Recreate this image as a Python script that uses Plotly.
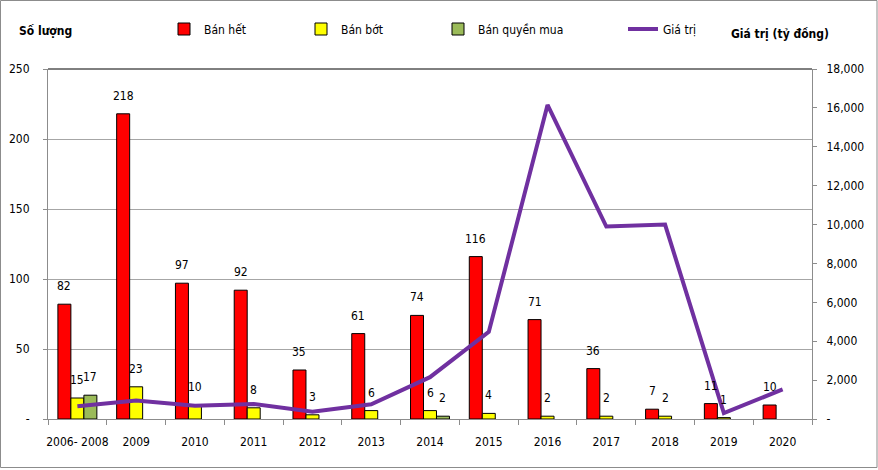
import plotly.graph_objects as go

categories = ["2006- 2008", "2009", "2010", "2011", "2012", "2013", "2014",
              "2015", "2016", "2017", "2018", "2019", "2020"]
ban_het = [82, 218, 97, 92, 35, 61, 74, 116, 71, 36, 7, 11, 10]
ban_bot = [15, 23, 10, 8, 3, 6, 6, 4, 2, 2, 2, 1, None]
ban_quyen_mua = [17, None, None, None, None, None, 2, None, None, None, None, None, None]
gia_tri = [650, 950, 680, 770, 380, 760, 2150, 4480, 16150, 9900, 10000, 300, 1520]

left_ticks = [0, 50, 100, 150, 200, 250]
left_ticktext = ["-", "50", "100", "150", "200", "250"]
right_ticks = [0, 2000, 4000, 6000, 8000, 10000, 12000, 14000, 16000, 18000]
right_ticktext = ["-", "2,000", "4,000", "6,000", "8,000", "10,000", "12,000",
                  "14,000", "16,000", "18,000"]

FONT = "DejaVu Sans Condensed, Liberation Sans Narrow, Arial Narrow, sans-serif"
W, H = 878, 470
ML, MR, MT, MB = 48, 66, 69, 51
PW = W - ML - MR
PH = H - MT - MB
BARGAP = 0.337
cat_w = PW / len(categories)
bar_w = cat_w * (1 - BARGAP) / 3

fig = go.Figure()
series = [
    ("Bán hết", ban_het, "#FF0000"),
    ("Bán bớt", ban_bot, "#FFFF00"),
    ("Bán quyền mua", ban_quyen_mua, "#9BBB59"),
]
for name, vals, col in series:
    fig.add_trace(go.Bar(
        name=name, x=categories, y=vals,
        marker=dict(color=col, line=dict(color="#000000", width=1)),
        legend="legend",
    ))

fig.add_trace(go.Scatter(
    name="Giá trị", x=categories, y=gia_tri, yaxis="y2",
    mode="lines", line=dict(color="#7030A0", width=4),
    legend="legend2",
))

annotations = []
for si, (name, vals, col) in enumerate(series):
    shift = (si - 1) * bar_w
    for ci, v in enumerate(vals):
        if v is None:
            continue
        annotations.append(dict(
            x=ci, y=v, xref="x", yref="y", text=str(v), showarrow=False,
            xshift=shift, yshift=9, yanchor="bottom",
            font=dict(family=FONT, size=12, color="#000000"),
        ))

annotations.append(dict(
    x=(45 - ML) / PW, y=1 + (MT - 31) / PH, xref="paper", yref="paper",
    text="<b>Số lượng</b>", showarrow=False, xanchor="center", yanchor="middle",
    font=dict(family=FONT, size=12, color="#000000"),
))
annotations.append(dict(
    x=(780 - ML) / PW, y=1 + (MT - 34) / PH, xref="paper", yref="paper",
    text="<b>Giá trị (tỷ đồng)</b>", showarrow=False, xanchor="center", yanchor="middle",
    font=dict(family=FONT, size=12, color="#000000"),
))

shapes = [
    dict(type="line", xref="paper", yref="paper", x0=0, x1=1, y0=1, y1=1,
         line=dict(color="#000000", width=1)),
    dict(type="rect", xref="paper", yref="paper",
         x0=(0.5 - ML) / PW, x1=(877 - ML) / PW,
         y0=-(467.5 - MT - PH) / PH, y1=1 + (MT - 0.5) / PH,
         line=dict(color="#8c8c8c", width=1)),
]

fig.update_layout(
    width=W, height=H,
    margin=dict(l=ML, r=MR, t=MT, b=MB, autoexpand=False),
    paper_bgcolor="#FFFFFF", plot_bgcolor="#FFFFFF",
    barmode="group", bargap=BARGAP, bargroupgap=0,
    font=dict(family=FONT, size=12, color="#000000"),
    showlegend=True,
    legend=dict(orientation="h", x=(164 - ML) / PW, y=1 + (MT - 29) / PH,
                xanchor="left", yanchor="middle", bgcolor="rgba(0,0,0,0)",
                entrywidth=92, entrywidthmode="pixels",
                font=dict(family=FONT, size=12), traceorder="normal"),
    legend2=dict(orientation="h", x=(623 - ML) / PW, y=1 + (MT - 29) / PH,
                 xanchor="left", yanchor="middle", bgcolor="rgba(0,0,0,0)",
                 font=dict(family=FONT, size=12)),
    xaxis=dict(
        type="category", range=[-0.5, len(categories) - 0.5],
        showline=True, linecolor="#8c8c8c", linewidth=1,
        ticks="outside", tickson="boundaries", ticklen=5, tickcolor="#8c8c8c",
        showgrid=False, ticklabelstandoff=12, tickangle=0,
        tickfont=dict(family=FONT, size=12),
    ),
    yaxis=dict(
        range=[0, 250], tickvals=left_ticks, ticktext=left_ticktext,
        showline=True, linecolor="#8c8c8c", linewidth=1,
        ticks="outside", ticklen=4, tickcolor="#8c8c8c",
        showgrid=True, gridcolor="#a6a6a6", gridwidth=1, zeroline=False,
        ticklabelstandoff=11, tickfont=dict(family=FONT, size=12),
    ),
    yaxis2=dict(
        range=[0, 18000], tickvals=right_ticks, ticktext=right_ticktext,
        overlaying="y", side="right", showline=True, linecolor="#8c8c8c",
        linewidth=1, ticks="outside", ticklen=4, tickcolor="#8c8c8c",
        showgrid=False, zeroline=False, ticklabelstandoff=7,
        tickfont=dict(family=FONT, size=12),
    ),
    annotations=annotations,
    shapes=shapes,
)

fig.write_html(
    "out.html",
    config={"displayModeBar": False},
    post_script="document.body.style.margin='0px';document.body.style.overflow='hidden';",
)
